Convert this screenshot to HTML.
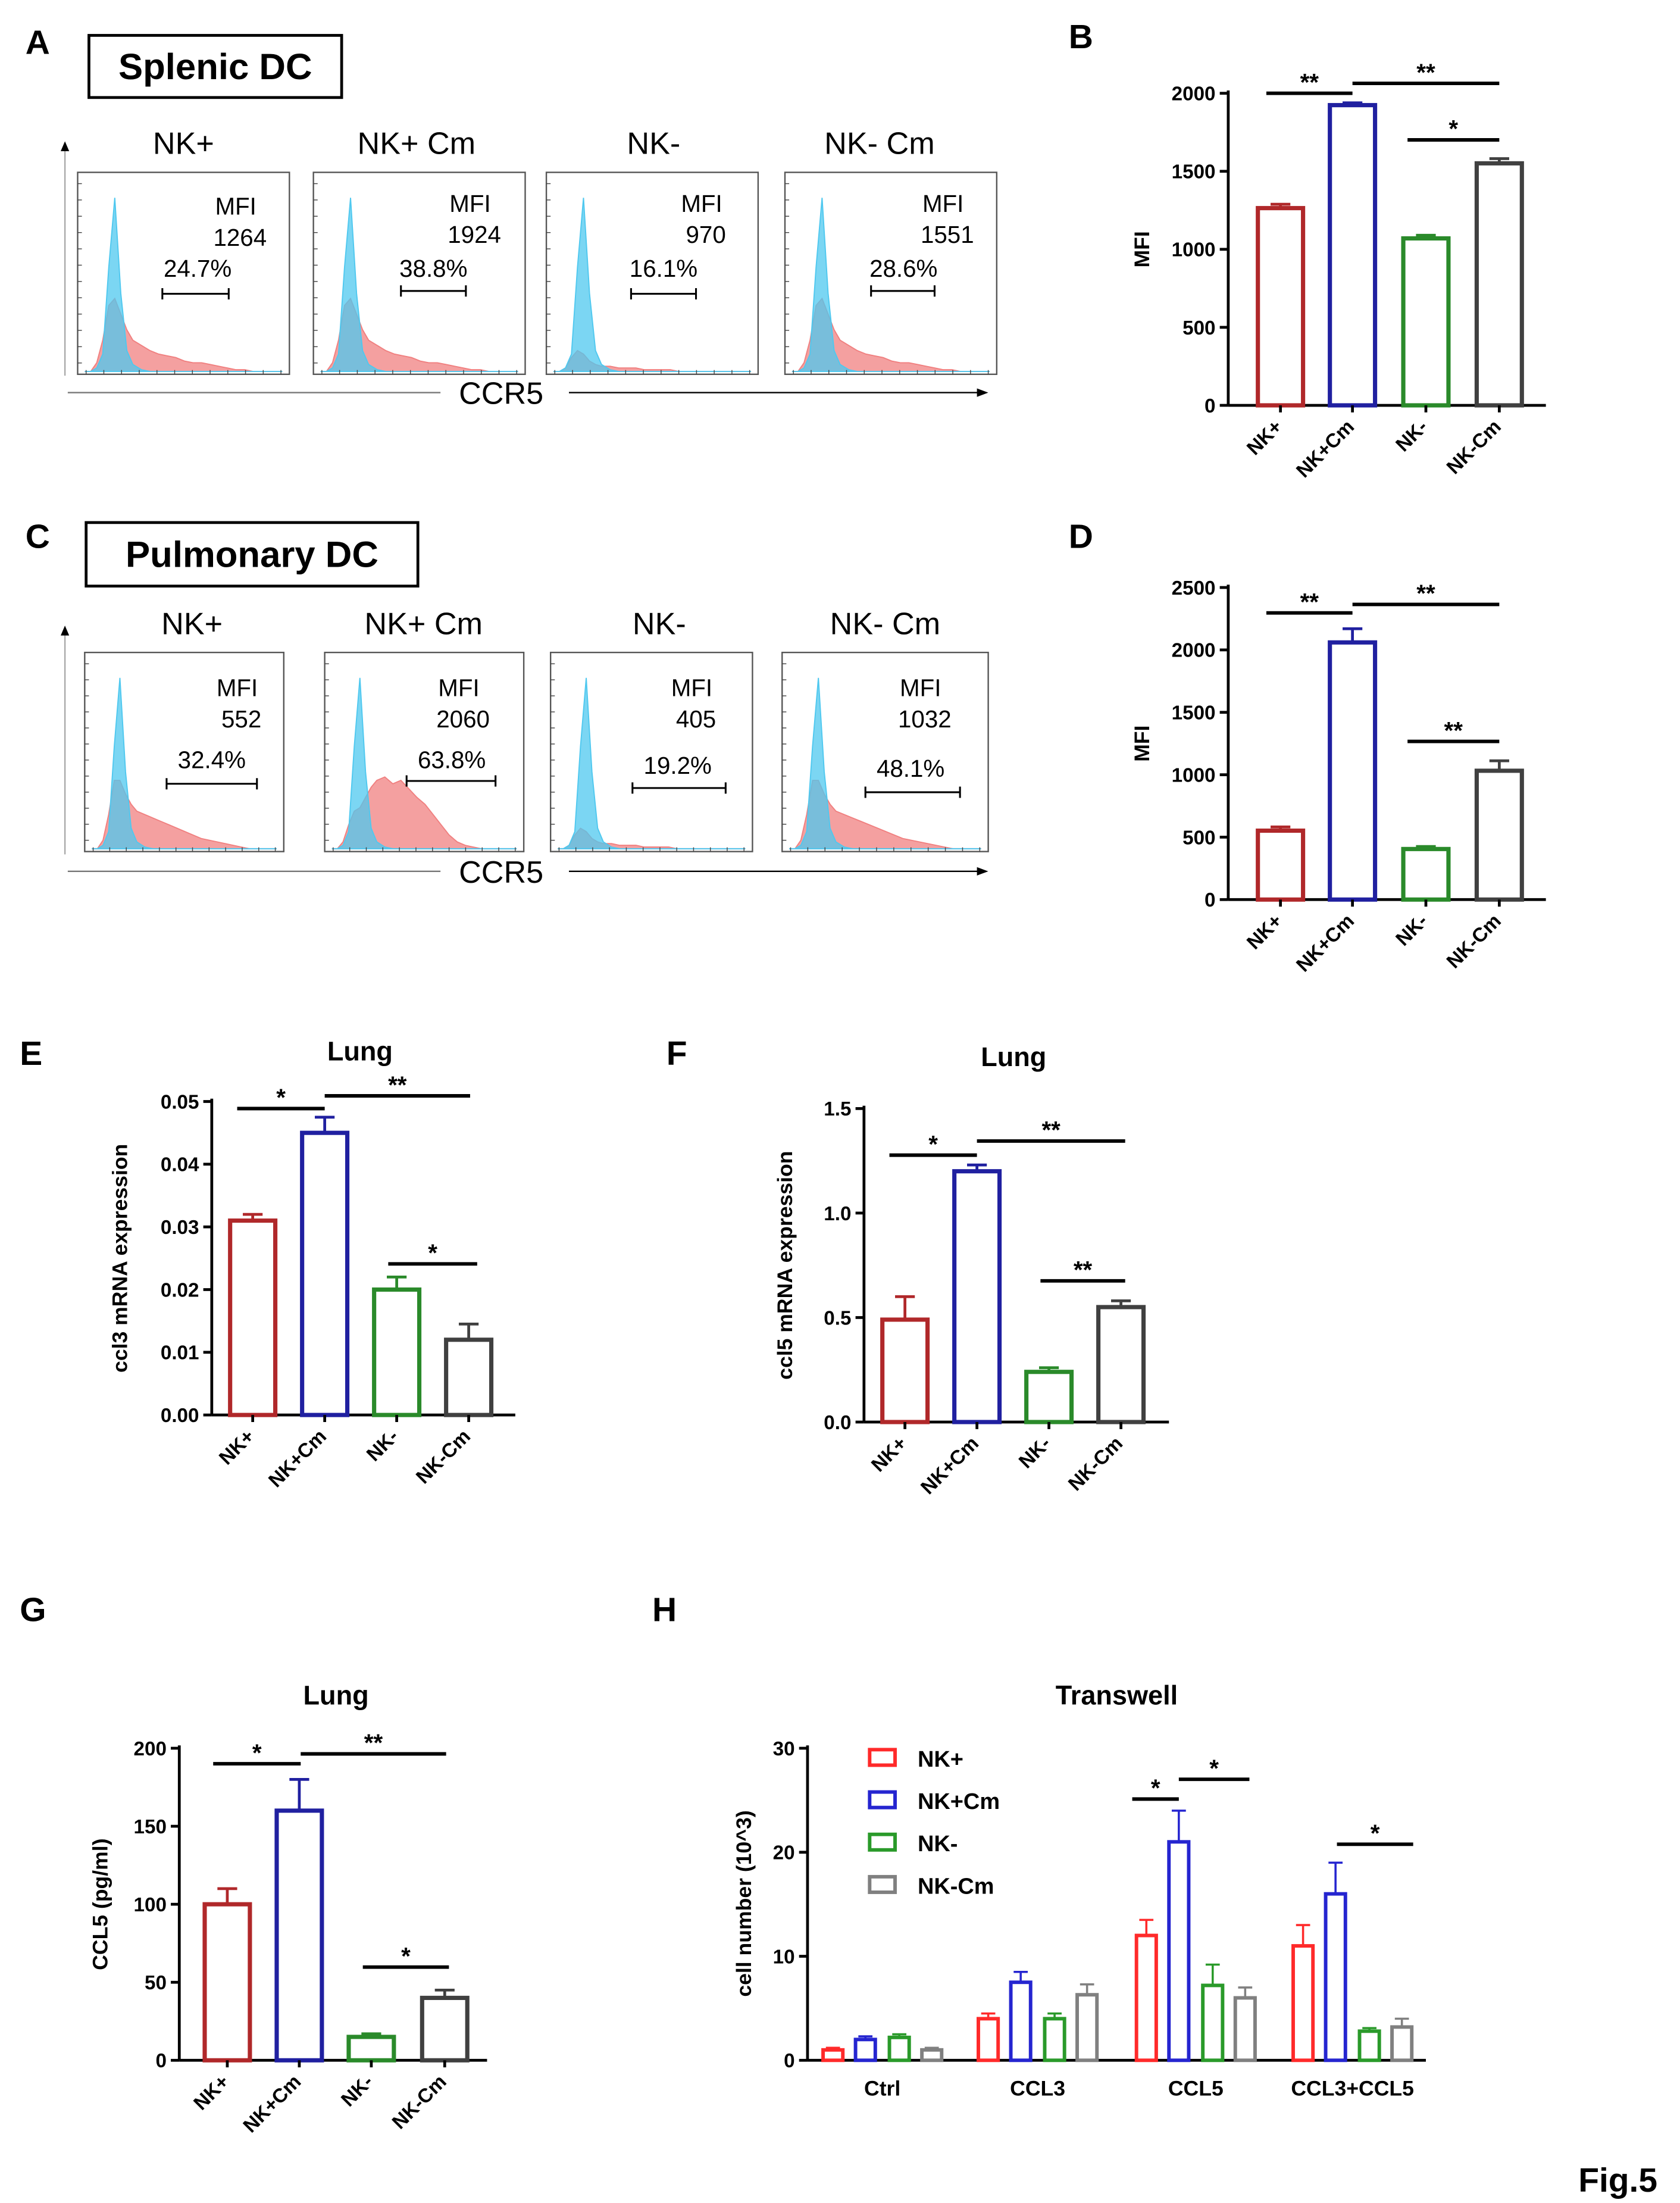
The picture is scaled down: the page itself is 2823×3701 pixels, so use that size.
<!DOCTYPE html>
<html><head><meta charset="utf-8"><style>
html,body{margin:0;padding:0;background:#fff}
svg{display:block}
text{font-family:"Liberation Sans",Arial,sans-serif}
</style></head><body>
<svg id="fig" width="2823" height="3701" viewBox="0 0 1190 1560" xmlns="http://www.w3.org/2000/svg">
<g id="root"></g>
</svg>
<script>
// ---- data ----
const groups = ["NK+","NK+Cm","NK-","NK-Cm"];
const bVals=[1264,1924,1070,1551], bErr=[25,15,20,30];
const dVals=[552,2060,405,1032], dErr=[30,110,20,80];
const eVals=[0.031,0.045,0.020,0.012], eErr=[0.001,0.0025,0.002,0.0025];
const fVals=[0.49,1.2,0.24,0.55], fErr=[0.11,0.03,0.02,0.03];
const gVals=[100,160,15,40], gErr=[10,20,2,5];
const hCats=["Ctrl","CCL3","CCL5","CCL3+CCL5"];
const hNKp=[1,4,12,11], hNKpCm=[2,7.5,21,16], hNKm=[2.2,4,7.2,2.8], hNKmCm=[1,6.3,6,3.2];
const hErrNKp=[0.2,0.5,1.5,2], hErrNKpCm=[0.3,1,3,3], hErrNKm=[0.3,0.5,2,0.3], hErrNKmCm=[0.2,1,1,0.8];
const histCyan=[0,0,2,10,60,100,45,12,4,1,0,0,0,0,0,0,0,0,0,0,0,0,0,0];
const histRedA=[0,0,5,18,38,42,33,24,18,15,12,10,9,8,6,5,5,4,3,2,1,1,0,0];
const histRedC=[0,0,5,20,40,40,32,26,22,20,18,16,14,12,10,8,6,5,4,3,2,1,0,0];
const histRedC2=[0,0,4,14,22,24,30,36,40,42,38,40,35,30,26,20,14,8,4,2,1,0,0,0];
const histRedLow=[0,0,2,8,12,10,6,4,3,3,2,2,2,1,1,1,1,0,0,0,0,0,0,0];

const NS="http://www.w3.org/2000/svg";
const root=document.getElementById('root');
function el(tag,attrs,parent,txt){const e=document.createElementNS(NS,tag);for(const k in attrs)e.setAttribute(k,attrs[k]);if(txt!==undefined)e.textContent=txt;(parent||root).appendChild(e);return e;}
function txt(x,y,s,size,opts,parent){opts=opts||{};const t=el('text',{x:x,y:y,'font-size':size,'text-anchor':opts.anchor||'middle','font-weight':opts.bold?'bold':'normal',fill:'#000'},parent,s);if(opts.rot)t.setAttribute('transform',`rotate(${opts.rot} ${x} ${y})`);return t;}

// panel letters
[["A",18,38],["B",757,34],["C",18,388],["D",757,388],["E",14,754],["F",472,754],["G",14,1148],["H",462,1148]].forEach(p=>{
 const t=txt(p[1],p[2],p[0],24,{anchor:'start',bold:true});
 
 
});
{const t=txt(1118,1552,"Fig.5",24,{anchor:'start',bold:true});
 
 }

// ---- histogram panels ----
function histPanel(id,titleBox,titles,boxes,stats,reds,axisY,arrowTop){
 const g=el('g',{});
 
 
 el('rect',{x:titleBox[0],y:titleBox[1],width:titleBox[2],height:titleBox[3],fill:'none',stroke:'#000','stroke-width':2},g);
 txt(titleBox[0]+titleBox[2]/2,titleBox[1]+titleBox[3]/2+9,titleBox[4],26,{bold:true},g);
 titles.forEach((t,i)=>txt(t[1],t[2],t[0],22,{},g));
 boxes.forEach((b,i)=>{
  const [x0,y0,x1,y1]=b;
  const sub=el('g',{},g);
  
  
  el('rect',{x:x0,y:y0,width:x1-x0,height:y1-y0,fill:'#fff',stroke:'#555','stroke-width':1},sub);
  const base=y1-2, h=y1-y0-20, step=(x1-x0-10)/(histCyan.length-1), start=x0+5+ (-1)*step+ step*0;
  function area(arr,color,op,scale){
   let d=`M${x0+5},${base}`;
   arr.forEach((v,k)=>{d+=` L${x0+5+k*step*(k<8?0.7:1)- (k>=8?8*step*0.3:0)},${base-v/100*h*scale}`;});
   d+=` L${x1-5},${base} Z`;
   el('path',{d:d,fill:color,'fill-opacity':op,stroke:color,'stroke-width':0.8},sub);
  }
  area(reds[i],'#f08080',0.75,1);
  area(histCyan,'#4fc8ef',0.75,1);
  // ticks
  for(let k=0;k<12;k++){el('line',{x1:x0+6+k*(x1-x0-12)/11,y1:y1,x2:x0+6+k*(x1-x0-12)/11,y2:y1-3,stroke:'#444','stroke-width':0.6},sub);
   el('line',{x1:x0,y1:y0+8+k*(y1-y0-16)/11,x2:x0+3,y2:y0+8+k*(y1-y0-16)/11,stroke:'#444','stroke-width':0.6},sub);}
  const s=stats[i];
  txt(s[0],s[1],"MFI",17,{},sub);
  txt(s[0]+3,s[1]+22,s[2],17,{},sub);
  txt(s[3],s[4],s[5],17,{},sub);
  el('line',{x1:s[6],y1:s[8],x2:s[7],y2:s[8],stroke:'#000','stroke-width':1.3},sub);
  el('line',{x1:s[6],y1:s[8]-4,x2:s[6],y2:s[8]+4,stroke:'#000','stroke-width':1.3},sub);
  el('line',{x1:s[7],y1:s[8]-4,x2:s[7],y2:s[8]+4,stroke:'#000','stroke-width':1.3},sub);
 });
 el('line',{x1:48,y1:axisY,x2:312,y2:axisY,stroke:'#777','stroke-width':1},g);
 el('line',{x1:403,y1:axisY,x2:694,y2:axisY,stroke:'#000','stroke-width':1},g);
 el('path',{d:`M700,${axisY} L692,${axisY-3} L692,${axisY+3} Z`,fill:'#000'},g);
 txt(355,axisY+8,"CCR5",22,{},g);
 el('line',{x1:46,y1:axisY-12,x2:46,y2:arrowTop+6,stroke:'#aaa','stroke-width':1},g);
 el('path',{d:`M46,${arrowTop} L43,${arrowTop+7} L49,${arrowTop+7} Z`,fill:'#000'},g);
}
histPanel('panel-a-histograms',[63,25,179,44,"Splenic DC"],
 [["NK+",130,109],["NK+ Cm",295,109],["NK-",463,109],["NK- Cm",623,109]],
 [[55,122,205,265],[222,122,372,265],[387,122,537,265],[556,122,706,265]],
 [[167,152,"1264",140,196,"24.7%",115,162,208],[333,150,"1924",307,196,"38.8%",284,330,206],[497,150,"970",470,196,"16.1%",447,493,208],[668,150,"1551",640,196,"28.6%",617,662,206]],
 [histRedA,histRedA,histRedLow,histRedA],278,100);
histPanel('panel-c-histograms',[61,370,235,45,"Pulmonary DC"],
 [["NK+",136,449],["NK+ Cm",300,449],["NK-",467,449],["NK- Cm",627,449]],
 [[60,462,201,603],[230,462,371,603],[390,462,533,603],[554,462,700,603]],
 [[168,493,"552",150,544,"32.4%",118,182,555],[325,493,"2060",320,544,"63.8%",288,351,553],[490,493,"405",480,548,"19.2%",448,514,558],[652,493,"1032",645,550,"48.1%",613,680,561]],
 [histRedC,histRedC2,histRedLow,histRedC],617,443);

// ---- bar charts ----
function barChart(o){
 const g=el('g',{});
 
 
 const y=v=>o.y0-(v-0)/(o.max)*(o.y0-o.yTop);
 el('line',{x1:o.ax,y1:o.yTop-2,x2:o.ax,y2:o.y0,stroke:'#000','stroke-width':2},g);
 el('line',{x1:o.ax,y1:o.y0,x2:o.axEnd,y2:o.y0,stroke:'#000','stroke-width':2},g);
 o.ticks.forEach((t,i)=>{const yy=y(o.tickVals[i]);
  el('line',{x1:o.ax-6,y1:yy,x2:o.ax,y2:yy,stroke:'#000','stroke-width':2},g);
  txt(o.ax-9,yy+5,t,14,{anchor:'end',bold:true},g);});
 txt(o.ylabX,(o.y0+o.yTop)/2,o.ylab,15,{bold:true,rot:-90},g);
 if(o.title) txt(o.titleX,o.titleY,o.title,19,{bold:true},g);
 o.vals.forEach((v,i)=>{
  const cx=o.xs[i], w=o.bw, top=y(v);
  const bar=el('rect',{x:cx-w/2,y:top,width:w,height:o.y0-top,fill:'none',stroke:o.colors[i],'stroke-width':3},g);
  
  
  const te=y(v+o.err[i]);
  el('line',{x1:cx,y1:top,x2:cx,y2:te,stroke:o.colors[i],'stroke-width':2},g);
  el('line',{x1:cx-7,y1:te,x2:cx+7,y2:te,stroke:o.colors[i],'stroke-width':2},g);
  el('line',{x1:cx,y1:o.y0,x2:cx,y2:o.y0+5,stroke:'#000','stroke-width':2},g);
  txt(cx+2,o.y0+16,groups[i],14,{anchor:'end',bold:true,rot:-45},g);
 });
 o.sig.forEach(s=>{el('line',{x1:s[0],y1:s[2],x2:s[1],y2:s[2],stroke:'#000','stroke-width':2.5},g);
  txt((s[0]+s[1])/2,s[2]-2,s[3],17,{bold:true},g);});
}
const cols=['#b0282a','#2020a0','#2a8a2a','#404040'];
barChart({name:'panel-b-mfi-splenic',ax:870,axEnd:1095,y0:287,yTop:66,max:2000,ticks:["0","500","1000","1500","2000"],tickVals:[0,500,1000,1500,2000],ylab:"MFI",ylabX:814,xs:[907,958,1010,1062],bw:32,vals:bVals,err:bErr,colors:cols,sig:[[897,958,66,"**"],[958,1062,59,"**"],[997,1062,99,"*"]]});
barChart({name:'panel-d-mfi-pulmonary',ax:870,axEnd:1095,y0:637,yTop:416,max:2500,ticks:["0","500","1000","1500","2000","2500"],tickVals:[0,500,1000,1500,2000,2500],ylab:"MFI",ylabX:814,xs:[907,958,1010,1062],bw:32,vals:dVals,err:dErr,colors:cols,sig:[[897,958,434,"**"],[958,1062,428,"**"],[997,1062,525,"**"]]});
barChart({name:'panel-e-ccl3',ax:150,axEnd:365,y0:1002,yTop:780,max:0.05,ticks:["0.00","0.01","0.02","0.03","0.04","0.05"],tickVals:[0,0.01,0.02,0.03,0.04,0.05],ylab:"ccl3 mRNA expression",ylabX:90,title:"Lung",titleX:255,titleY:751,xs:[179,230,281,332],bw:32,vals:eVals,err:eErr,colors:cols,sig:[[168,230,785,"*"],[230,333,776,"**"],[275,338,895,"*"]]});
barChart({name:'panel-f-ccl5',ax:612,axEnd:828,y0:1007,yTop:785,max:1.5,ticks:["0.0","0.5","1.0","1.5"],tickVals:[0,0.5,1,1.5],ylab:"ccl5 mRNA expression",ylabX:561,title:"Lung",titleX:718,titleY:755,xs:[641,692,743,794],bw:32,vals:fVals,err:fErr,colors:cols,sig:[[630,692,818,"*"],[692,797,808,"**"],[737,797,907,"**"]]});
barChart({name:'panel-g-ccl5-protein',ax:127,axEnd:345,y0:1459,yTop:1238,max:200,ticks:["0","50","100","150","200"],tickVals:[0,50,100,150,200],ylab:"CCL5 (pg/ml)",ylabX:76,title:"Lung",titleX:238,titleY:1207,xs:[161,212,263,315],bw:32,vals:gVals,err:gErr,colors:cols,sig:[[151,213,1249,"*"],[213,316,1242,"**"],[257,318,1393,"*"]]});

// ---- panel H grouped bars ----
(function(){
 const g=el('g',{});
 
 
 const ax=572,y0=1459,yTop=1238,max=30;
 const y=v=>y0-v/max*(y0-yTop);
 el('line',{x1:ax,y1:yTop-2,x2:ax,y2:y0,stroke:'#000','stroke-width':2},g);
 el('line',{x1:ax,y1:y0,x2:1010,y2:y0,stroke:'#000','stroke-width':2},g);
 [0,10,20,30].forEach(t=>{el('line',{x1:ax-6,y1:y(t),x2:ax,y2:y(t),stroke:'#000','stroke-width':2},g);
  txt(ax-9,y(t)+5,String(t),14,{anchor:'end',bold:true},g);});
 txt(532,1348,"cell number (10^3)",15,{bold:true,rot:-90},g);
 txt(791,1207,"Transwell",19,{bold:true},g);
 const series=[hNKp,hNKpCm,hNKm,hNKmCm], errs=[hErrNKp,hErrNKpCm,hErrNKm,hErrNKmCm];
 const hc=['#ff2a2a','#2525d0','#2a9a2a','#808080'];
 const gx=[625,735,847,958], off=[-35,-12,12,35];
 hCats.forEach((c,ci)=>{
  txt(gx[ci],1484,c,15,{bold:true},g);
  series.forEach((s,si)=>{
   const cx=gx[ci]+off[si], top=y(s[ci]);
   const b=el('rect',{x:cx-7,y:top,width:14,height:y0-top,fill:'none',stroke:hc[si],'stroke-width':2.5},g);
   
   
   const te=y(s[ci]+errs[si][ci]);
   el('line',{x1:cx,y1:top,x2:cx,y2:te,stroke:hc[si],'stroke-width':1.5},g);
   el('line',{x1:cx-5,y1:te,x2:cx+5,y2:te,stroke:hc[si],'stroke-width':1.5},g);
  });
 });
 [[802,835,1274,"*"],[835,885,1260,"*"],[947,1001,1306,"*"]].forEach(s=>{
  el('line',{x1:s[0],y1:s[2],x2:s[1],y2:s[2],stroke:'#000','stroke-width':2.5},g);
  txt((s[0]+s[1])/2,s[2]-2,s[3],17,{bold:true},g);});
 groups.forEach((n,i)=>{
  const ly=1245+i*30;
  const lg=el('g',{},g);
  
  
  el('rect',{x:616,y:ly-6,width:18,height:11,fill:'none',stroke:hc[i],'stroke-width':2.5},lg);
  txt(650,ly+6,n,16,{anchor:'start',bold:true},lg);
 });
})();
</script>
</body></html>
